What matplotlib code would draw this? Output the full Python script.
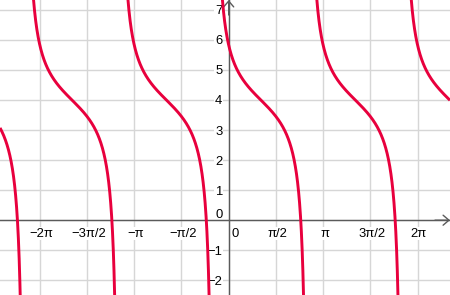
import numpy as np
import matplotlib
matplotlib.use("Agg")
import matplotlib.pyplot as plt

# ---- values ----
# plotted function: y = y_offset + cot(x + x_phase)
y_offset = 4.0
x_phase = 0.5
x_view = [-7.608, 7.362]
y_view = [-2.491, 7.333]
x_tick_halfpi = [-4, -3, -2, -1, 1, 2, 3, 4]
x_tick_labels = ["\u22122\u03c0", "\u22123\u03c0/2", "\u2212\u03c0", "\u2212\u03c0/2",
                 "\u03c0/2", "\u03c0", "3\u03c0/2", "2\u03c0"]
y_ticks = [-2, -1, 1, 2, 3, 4, 5, 6, 7]
y_tick_labels = ["\u22122", "\u22121", "1", "2", "3", "4", "5", "6", "7"]

plt.rcParams['font.family'] = ['Liberation Sans', 'DejaVu Sans']
plt.rcParams['savefig.bbox'] = 'standard'

fig = plt.figure(figsize=(4.5, 2.95), dpi=100)
ax = fig.add_axes([0, 0, 1, 1])
ax.set_xlim(*x_view)
ax.set_ylim(*y_view)
for s in ax.spines.values():
    s.set_visible(False)

# grid
grid_col = '#d6d6d6'
ax.set_xticks(np.arange(-4, 5) * np.pi / 2)
ax.set_yticks(np.arange(-2, 8))
ax.grid(True, color=grid_col, lw=1.0, zorder=0)
ax.tick_params(length=0, labelbottom=False, labelleft=False)

# axes with arrows
axis_col = '#5a5a5a'
ax.axhline(0, color=axis_col, lw=1.0, zorder=2)
ax.axvline(0, color=axis_col, lw=1.0, zorder=2)
arrow_kw = dict(arrowstyle='->,head_length=0.42,head_width=0.36', color=axis_col,
                lw=1.0, shrinkA=0, shrinkB=0, mutation_scale=10)
ax.annotate('', xy=(x_view[1], 0), xytext=(x_view[1] - 0.5, 0), arrowprops=arrow_kw,
            zorder=2)
ax.annotate('', xy=(0, y_view[1]), xytext=(0, y_view[1] - 0.5), arrowprops=arrow_kw,
            zorder=2)

# curve, branch by branch between asymptotes x = k*pi - phase
asym = [k * np.pi - x_phase for k in range(-4, 5)]
edges = [x_view[0]] + [a for a in asym if x_view[0] < a < x_view[1]] + [x_view[1]]
red = '#e8003d'
for a, b in zip(edges[:-1], edges[1:]):
    eps = 1e-3
    xs = np.linspace(a + eps, b - eps, 800)
    ys = y_offset + 1.0 / np.tan(xs + x_phase)
    ys = np.clip(ys, -60, 60)
    ax.plot(xs, ys, color=red, lw=2.1, solid_capstyle='butt', zorder=4)

# tick labels
fs = 9.4
bbox = dict(facecolor='white', edgecolor='none', pad=0.6)
for m, lab in zip(x_tick_halfpi, x_tick_labels):
    ax.annotate(lab, xy=(m * np.pi / 2, 0), xytext=(1.0, -5.3), textcoords='offset points',
                ha='center', va='top', fontsize=fs, color='black', bbox=bbox, zorder=3)
for v, lab in zip(y_ticks, y_tick_labels):
    ax.annotate(lab, xy=(0, v), xytext=(-4.6, -1.0), textcoords='offset points',
                ha='right', va='center', fontsize=fs, color='black', bbox=bbox, zorder=3)
# zero labels at the origin
ax.annotate("0", xy=(0, 0), xytext=(-4.6, 1.4), textcoords='offset points',
            ha='right', va='baseline', fontsize=fs, color='black', zorder=3)
ax.annotate("0", xy=(0, 0), xytext=(2.2, -5.3), textcoords='offset points',
            ha='left', va='top', fontsize=fs, color='black', zorder=3)

fig.savefig('out.png', dpi=100, bbox_inches=None)
